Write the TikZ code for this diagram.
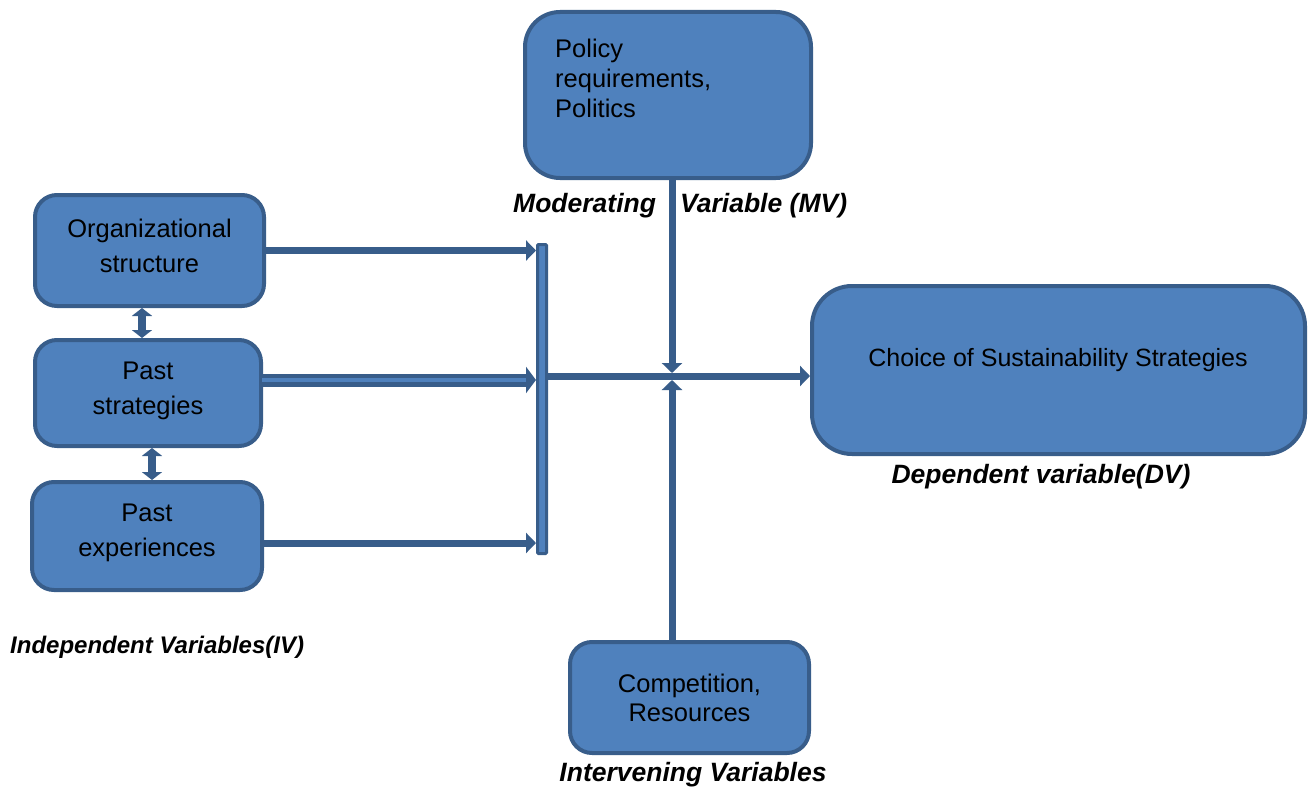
\documentclass[tikz,border=0pt]{standalone}
\usepackage{fontspec}
\setmainfont{Liberation Sans}
\usetikzlibrary{arrows.meta}
\definecolor{boxfill}{HTML}{4F81BD}
\definecolor{boxline}{HTML}{385D8A}
\begin{document}
\begin{tikzpicture}[x=1pt,y=-1pt,
  box/.style={draw=boxline, line width=4pt, fill=boxfill, rounded corners=22pt, inner sep=0pt},
  txt/.style={font=\fontsize{25.5}{35}\selectfont, align=center, text=black, inner sep=0pt},
  lbl/.style={font=\fontsize{26.5}{30}\selectfont\bfseries\itshape, inner sep=0pt},
  conn/.style={draw=boxline, line width=7pt, -{Triangle[length=10pt,width=20pt]}},
  twoway/.style={draw=boxline, line width=8pt, {Triangle[length=8pt,width=20pt]}-{Triangle[length=8pt,width=20pt]}}
]
\useasboundingbox (0,0) rectangle (1314,789);

% boxes
\node[box, minimum width=229pt, minimum height=111pt] (org) at (149.5,250.5) {};
\node[box, minimum width=226pt, minimum height=106pt] (ps) at (148,393) {};
\node[box, minimum width=230pt, minimum height=108pt] (pe) at (147,536) {};
\node[box, rounded corners=35pt, minimum width=286pt, minimum height=166pt] (pol) at (668,95) {};
\node[box, rounded corners=40pt, minimum width=493pt, minimum height=168pt] (choice) at (1058.5,370) {};
\node[box, minimum width=239pt, minimum height=111pt] (comp) at (689.5,697.5) {};
\node[draw=boxline, line width=3pt, fill=boxfill, rounded corners=1pt, minimum width=9pt, minimum height=309pt, inner sep=0pt] (bar) at (542,399) {};

% texts
\node[txt] (orgT) at (149.5,245.5) {Organizational\\structure};
\node[txt] (psT) at (148,390.5) {Past\\strategies};
\node[txt] (peT) at (147,532.5) {Past\\experiences};
\node[txt, align=left, anchor=west, font=\fontsize{25.5}{30}\selectfont] (polT) at (555,78) {Policy\\requirements,\\Politics};
\node[txt, font=\fontsize{25}{30}\selectfont] (choiceT) at (1058,360) {Choice of Sustainability Strategies};
\node[txt, font=\fontsize{25.5}{29}\selectfont] (compT) at (689.5,697.5) {Competition,\\Resources};

% labels
\node[lbl, anchor=west] (modA) at (513,206) {Moderating};
\node[lbl, anchor=west] (modB) at (680,206) {Variable (MV)};
\node[lbl, anchor=west, font=\fontsize{24}{28}\selectfont\bfseries\itshape] (ivL) at (10,647) {Independent Variables(IV)};
\node[lbl] (dvL) at (1041,477) {Dependent variable(DV)};
\node[lbl] (itvL) at (693,775) {Intervening Variables};

% junction
\coordinate (j) at (672,376);
\coordinate (c1) at (142,0);
\coordinate (c2) at (152,0);

% connectors
\draw[conn] (org.east) -- (org.east -| bar.west);
\draw[conn, line width=13pt, -{Triangle[length=10pt,width=26pt]}] ([yshift=13pt]ps.east) -- ([yshift=13pt]ps.east -| bar.west);
\draw[boxfill, line width=4pt, shorten >=10pt] ([yshift=13pt,xshift=-1pt]ps.east) -- ([yshift=13pt]ps.east -| bar.west);
\draw[conn] ([yshift=-7pt]pe.east) -- ([yshift=-7pt]pe.east -| bar.west);
\draw[conn] (bar.east |- j) -- (choice.west |- j);
\draw[conn] (pol.south -| j) -- ([yshift=3pt]j);
\draw[conn] (comp.north -| j) -- ([yshift=-4pt]j);
\draw[twoway] (org.south -| c1) -- (ps.north -| c1);
\draw[twoway] (ps.south -| c2) -- (pe.north -| c2);
\end{tikzpicture}
\end{document}
